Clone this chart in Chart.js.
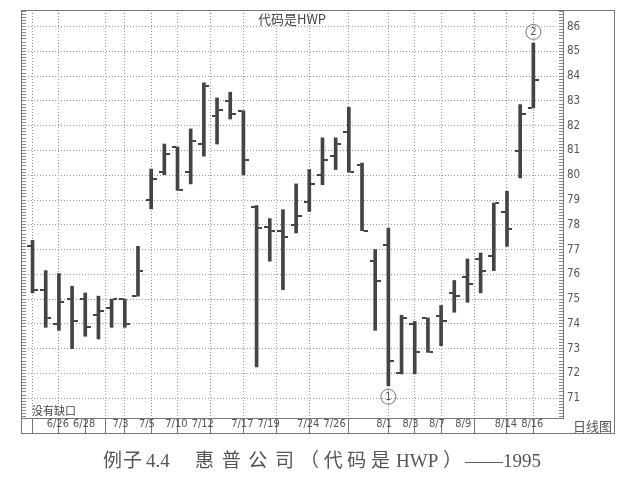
<!DOCTYPE html>
<html>
<head>
<meta charset="utf-8">
<script src="https://cdn.jsdelivr.net/npm/chart.js@4.4.0/dist/chart.umd.min.js"></script>
<style>
  html, body { margin: 0; padding: 0; background: #fff; }
</style>
</head>
<body>
<canvas id="hwp-chart" width="640" height="480"></canvas>
<script>
// trading days, one bar each
const dates = ['6/23', '6/26', '6/27', '6/28', '6/29', '6/30', '7/3', '7/4', '7/5', '7/6',
  '7/10', '7/11', '7/12', '7/13', '7/14', '7/17', '7/18', '7/19', '7/20', '7/21',
  '7/24', '7/25', '7/26', '7/27', '7/28', '7/31', '8/1', '8/2', '8/3', '8/4',
  '8/7', '8/8', '8/9', '8/10', '8/11', '8/14', '8/15', '8/16', '8/17'];

const opens = [77.13, 75.38, 74.0, 75.0, 75.0, 74.37, 74.64, 75.0, 75.12, 79.02,
  80.12, 81.14, 80.15, 81.26, 82.38, 83.0, 82.6, 78.7, 77.9, 77.76,
  78.0, 78.91, 80.0, 80.77, 81.75, 80.4, 76.53, 77.2, 72.0, 74.0,
  74.24, 74.33, 75.25, 75.88, 76.62, 76.75, 78.5, 80.97, 82.72];
const highs = [77.37, 76.15, 76.03, 75.52, 75.25, 75.12, 75.0, 75.0, 77.13, 80.25,
  81.26, 81.14, 81.87, 83.73, 83.12, 83.35, 82.6, 78.77, 78.25, 78.61,
  79.65, 80.23, 81.51, 81.51, 82.74, 80.49, 77.0, 77.87, 74.35, 74.1,
  74.24, 74.74, 75.75, 76.62, 76.86, 78.88, 79.35, 82.85, 85.34];
const lows = [75.25, 73.86, 73.74, 73.0, 73.5, 73.39, 73.86, 73.86, 75.12, 78.64,
  80.02, 79.39, 79.65, 80.77, 81.26, 82.27, 80.02, 72.26, 76.53, 75.38,
  77.67, 78.54, 79.62, 80.23, 80.12, 77.76, 73.74, 71.5, 71.98, 71.98,
  72.85, 73.12, 74.47, 74.87, 75.25, 76.15, 77.13, 79.89, 82.72];
const closes = [75.38, 74.24, 74.87, 74.13, 73.86, 74.5, 75.0, 74.0, 76.15, 79.86,
  80.87, 79.39, 81.37, 83.62, 82.62, 82.48, 80.63, 77.87, 77.74, 77.49,
  78.37, 79.65, 80.63, 81.26, 80.12, 77.76, 75.75, 72.49, 74.24, 72.85,
  72.85, 74.1, 75.12, 75.62, 76.15, 78.88, 77.84, 82.49, 83.83];

// dates written under the chart, and a cell divider with no text
const shownDates = ['6/26', '6/28', '7/3', '7/5', '7/10', '7/12', '7/17', '7/19', '7/24',
  '7/26', '8/1', '8/3', '8/7', '8/9', '8/14', '8/16'];
const blankDates = ['6/30'];
const priceLabels = [71, 72, 73, 74, 75, 76, 77, 78, 79, 80, 81, 82, 83, 84, 85, 86];

const narrow = "'DejaVu Sans Condensed', 'Liberation Sans', sans-serif";
const cjk = "'Noto Sans CJK SC', sans-serif";

function tickMark(side) {
  const c = document.createElement('canvas');
  c.width = 11; c.height = 2;
  const g = c.getContext('2d');
  g.fillStyle = '#444';
  g.fillRect(side === 'left' ? 0 : 7, 0, 4, 2);
  return c;
}

// spread a piece of text between two x positions
function fitText(ctx, text, x0, x1, y) {
  ctx.letterSpacing = '0px';
  const w = ctx.measureText(text).width;
  const n = [...text].length;
  const extra = n > 1 ? (x1 - x0 - w) / (n - 1) : 0;
  ctx.letterSpacing = extra + 'px';
  ctx.fillText(text, x0, y);
  ctx.letterSpacing = '0px';
}

const xTickIdx = dates.map((d, i) => (shownDates.includes(d) || blankDates.includes(d)) ? i : -1).filter(i => i >= 0);

const decor = {
  id: 'decor',
  afterDraw(chart) {
    const ctx = chart.ctx;
    const xs = chart.scales.x, ys = chart.scales.y;
    ctx.save();
    // outer frame
    ctx.strokeStyle = '#777';
    ctx.lineWidth = 1;
    ctx.strokeRect(21.5, 10.5, 593, 423);
    ctx.fillStyle = '#444';
    ctx.textBaseline = 'middle';
    ctx.textAlign = 'center';
    ctx.font = '13px ' + cjk;
    ctx.fillText('代码是HWP', 292, 19);
    ctx.textAlign = 'left';
    ctx.font = '11px ' + cjk;
    ctx.fillText('没有缺口', 32, 411);
    ctx.font = '13px ' + cjk;
    ctx.fillStyle = '#555';
    ctx.fillText('日线图', 573, 426);
    // circled markers
    const marks = [[dates.indexOf('8/2'), '1', ys.getPixelForValue(lows[27]) + 11],
                   [dates.indexOf('8/17'), '2', ys.getPixelForValue(highs[38]) - 11]];
    ctx.font = '11px ' + narrow;
    ctx.textAlign = 'center';
    marks.forEach(([i, t, y]) => {
      const x = xs.getPixelForValue(i);
      ctx.beginPath();
      ctx.arc(x, y, 7.5, 0, Math.PI * 2);
      ctx.strokeStyle = '#777';
      ctx.stroke();
      ctx.fillStyle = '#555';
      ctx.fillText(t, x, y + 0.5);
    });
    // caption
    ctx.textAlign = 'left';
    ctx.fillStyle = '#555';
    ctx.font = "19px 'Liberation Serif', 'Noto Sans CJK SC', serif";
    fitText(ctx, '例子', 103, 142, 462);
    ctx.fillText('4.4', 146, 462);
    fitText(ctx, '惠普公司', 195, 294, 462);
    fitText(ctx, '（代码是', 300, 390, 462);
    ctx.fillText('HWP', 396, 462);
    ctx.fillText('）', 443, 462);
    ctx.fillText('——1995', 465, 462);
    ctx.restore();
  }
};

const dataHWP = {
  datasets: [{
    type: 'bar',
    data: dates.map((d, i) => ({ x: i, y: [lows[i], highs[i]] })),
    backgroundColor: '#444',
    barThickness: 3,
    grouped: false,
    xAxisID: 'x',
    yAxisID: 'y'
  }, {
    type: 'scatter',
    data: dates.map((d, i) => ({ x: i, y: opens[i] })),
    pointStyle: tickMark('left'),
    radius: 3,
    xAxisID: 'x',
    yAxisID: 'y'
  }, {
    type: 'scatter',
    data: dates.map((d, i) => ({ x: i, y: closes[i] })),
    pointStyle: tickMark('right'),
    radius: 3,
    xAxisID: 'x',
    yAxisID: 'y'
  }]
};

const configHWP = {
  type: 'bar',
  data: dataHWP,
  options: {
    responsive: false,
    animation: false,
    layout: { padding: { left: 22, top: 10, right: 26, bottom: 47 } },
    plugins: {
      legend: { display: false },
      tooltip: { enabled: false }
    },
    scales: {
      x: {
        type: 'linear',
        position: 'bottom',
        min: -0.8,
        max: 40.25,
        offset: false,
        afterBuildTicks: s => { s.ticks = xTickIdx.map(v => ({ value: v })); },
        afterFit: s => { s.height = 15; s.paddingLeft = 0; s.paddingRight = 0; },
        ticks: {
          autoSkip: false,
          maxRotation: 0,
          align: 'start',
          padding: -15,
          color: '#555',
          font: { family: narrow, size: 11 },
          callback: v => shownDates.includes(dates[v]) ? '\u200a' + dates[v] : ''
        },
        grid: {
          color: c => (c.tick && blankDates.includes(dates[c.tick.value])) ? 'rgba(0,0,0,0)' : '#999',
          tickColor: '#777',
          tickLength: 15,
          tickBorderDash: []
        },
        border: { display: true, color: '#777', width: 1, dash: [1, 2] }
      },
      y: {
        position: 'right',
        min: 70.2,
        max: 86.67,
        afterFit: s => { s.width = 51; s.paddingTop = 0; s.paddingBottom = 0; },
        ticks: {
          stepSize: 0.125,
          includeBounds: false,
          autoSkip: false,
          padding: 8,
          color: '#555',
          font: { family: narrow, size: 11.5 },
          callback: v => priceLabels.includes(v) ? String(v) : ''
        },
        grid: {
          color: c => (c.tick && priceLabels.includes(c.tick.value)) ? '#999' : 'rgba(0,0,0,0)',
          tickColor: '#888',
          tickLength: -4
        },
        border: { display: true, color: '#777', width: 1, dash: [1, 2] }
      },
      yL: {
        position: 'left',
        min: 70.2,
        max: 86.67,
        afterFit: s => { s.width = 0; s.paddingTop = 0; s.paddingBottom = 0; },
        ticks: { display: false, stepSize: 0.125, includeBounds: false, autoSkip: false },
        grid: { drawOnChartArea: false, tickColor: '#888', tickLength: -4 },
        border: { display: false }
      }
    }
  }
};

let hwpObj = document.getElementById('hwp-chart');
let hwpChart = new Chart(hwpObj, { ...configHWP, plugins: [decor] });
</script>
</body>
</html>
